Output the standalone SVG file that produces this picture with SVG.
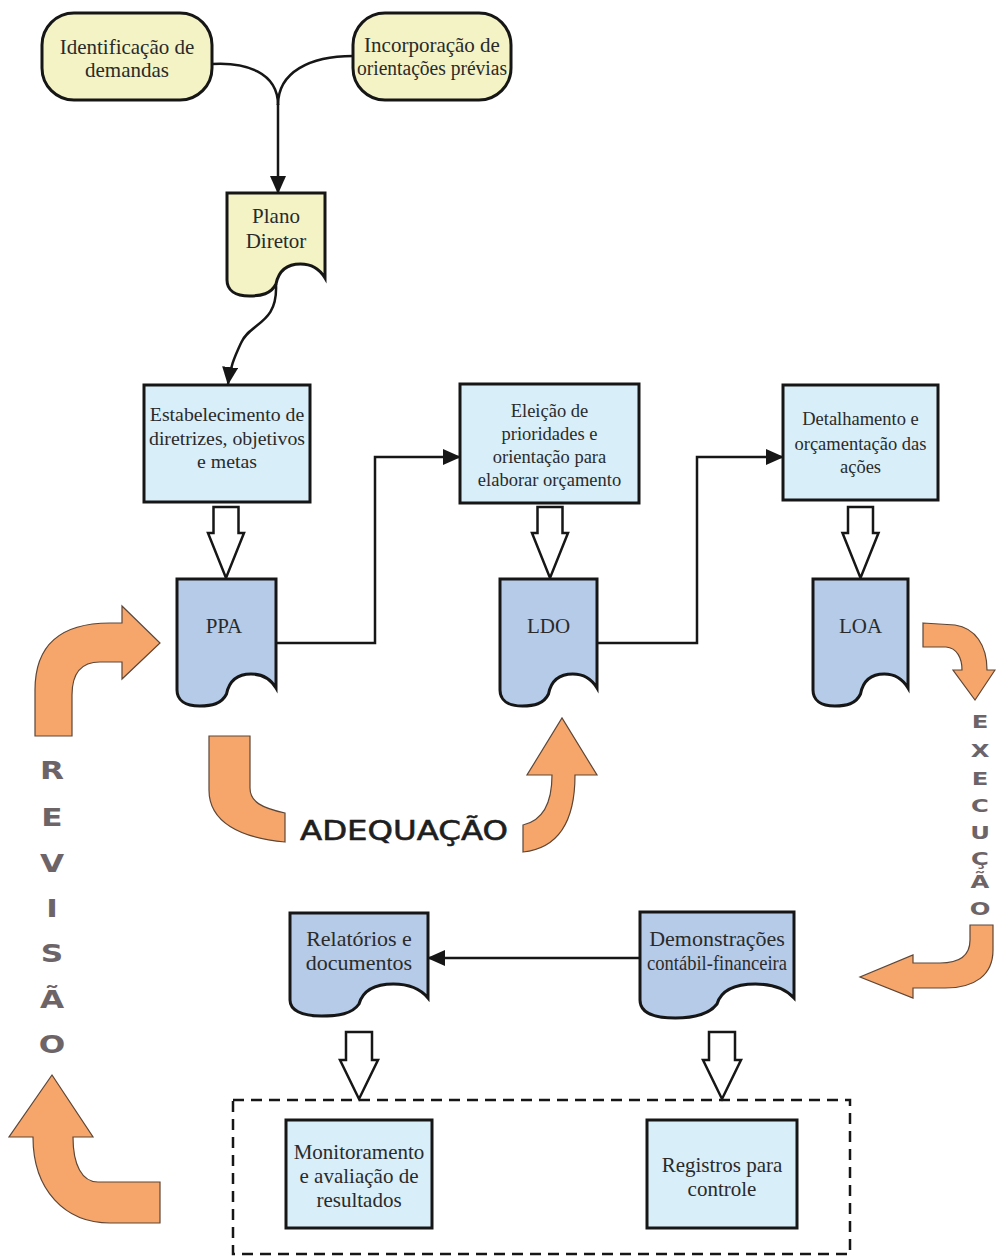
<svg xmlns="http://www.w3.org/2000/svg" width="996" height="1260" viewBox="0 0 996 1260">
<defs>
<style>
.t{font-family:"Liberation Serif","Times New Roman",serif;fill:#2a2a2a;text-anchor:middle}
.term{fill:#f3f3c6;stroke:#161616;stroke-width:3}
.rb{fill:#d8eef9;stroke:#161616;stroke-width:3}
.doc{fill:#b6cbe7;stroke:#161616;stroke-width:3}
.docy{fill:#f3f3c6;stroke:#161616;stroke-width:3}
.con{fill:none;stroke:#161616;stroke-width:2.5}
.hol{fill:#fff;stroke:#161616;stroke-width:2.5;stroke-linejoin:miter}
.or{fill:#f6a66b;stroke:#5e4636;stroke-width:1.2}
.big{font-family:"DejaVu Sans",sans-serif;font-weight:bold;fill:#6d6468;text-anchor:middle}
</style>
<marker id="ah" markerUnits="userSpaceOnUse" markerWidth="18" markerHeight="16" refX="17" refY="8" orient="auto">
<path d="M0,0 L18,8 L0,16 Z" fill="#161616"/>
</marker>
</defs>
<rect width="996" height="1260" fill="#fff"/>

<g id="connectors">
<path class="con" d="M212,64 C245,62 278,72 278,105"/>
<path class="con" d="M353,56 C310,56 278,72 278,105"/>
<path class="con" d="M278,104 V193" marker-end="url(#ah)"/>
<path class="con" d="M276,284 C278,325 250,322 241,343 C234,358 230,368 228,384" marker-end="url(#ah)"/>
<path class="con" d="M276,643 H375 V457 H460" marker-end="url(#ah)"/>
<path class="con" d="M597,643 H697 V457 H783" marker-end="url(#ah)"/>
<path class="con" d="M640,958 H428" marker-end="url(#ah)"/>
<path class="hol" d="M213.5,507 H238.5 V533 H244 L226,578 L208,533 H213.5 Z"/>
<path class="hol" d="M537.5,507 H562.5 V533 H568 L550,578 L532,533 H537.5 Z"/>
<path class="hol" d="M848,507 H873 V533 H878.5 L860.5,578 L842.5,533 H848 Z"/>
<path class="hol" d="M346,1032 H372 V1060 H378 L359,1099 L340,1060 H346 Z"/>
<path class="hol" d="M709,1032 H735 V1060 H741 L722,1099 L703,1060 H709 Z"/>
</g>

<g id="orange-arrows">
<path class="or" d="M35,736 L35,690 C35,645 60,623 110,623 L122,623 L122,606 L160,643 L122,679 L122,662 L100,662 C82,662 72,672 72,695 L72,736 Z"/>
<path class="or" d="M209,736 L250,736 L250,788 C250,802 262,808 285,813 L285,842 C240,838 209,822 209,790 Z"/>
<path class="or" d="M523,825 C545,820 552,800 552,775 L527,775 L562,718 L597,775 L575,775 C575,820 560,848 523,852 Z"/>
<path class="or" d="M923,623 L955,625 C975,628 987,645 987,670 L995,670 L975,700 L953,670 L962,670 C962,658 957,648 946,647 L923,647 Z"/>
<path class="or" d="M970,925 L993,925 L993,950 C993,975 975,988 945,988 L913,988 L913,998 L860,977 L913,955 L913,963 L940,963 C960,963 970,955 970,940 Z"/>
<path class="or" d="M33,1137 C33,1190 65,1223 110,1223 L160,1223 L160,1182 L98,1182 C82,1182 73,1165 73,1137 L93,1137 L52,1075 L9,1137 Z"/>
</g>

<g id="label-revisao" transform="translate(52,0) scale(1.3,1)">
<text class="big" font-size="24" x="0" y="779">R</text>
<text class="big" font-size="24" x="0" y="826">E</text>
<text class="big" font-size="24" x="0" y="872">V</text>
<text class="big" font-size="24" x="0" y="917">I</text>
<text class="big" font-size="24" x="0" y="962">S</text>
<text class="big" font-size="24" x="0" y="1008">Ã</text>
<text class="big" font-size="24" x="0" y="1053">O</text>
</g>

<g id="label-execucao" transform="translate(980,0) scale(1.35,1)">
<text class="big" font-size="18" x="0" y="728">E</text>
<text class="big" font-size="18" x="0" y="757">X</text>
<text class="big" font-size="18" x="0" y="785">E</text>
<text class="big" font-size="18" x="0" y="812">C</text>
<text class="big" font-size="18" x="0" y="839">U</text>
<text class="big" font-size="18" x="0" y="865">Ç</text>
<text class="big" font-size="18" x="0" y="888">Ã</text>
<text class="big" font-size="18" x="0" y="915">O</text>
</g>

<g id="label-adequacao">
<text x="300" y="840" font-family="DejaVu Sans, sans-serif" font-size="27" fill="#1e1e1e" stroke="#1e1e1e" stroke-width="0.6" textLength="208" lengthAdjust="spacingAndGlyphs">ADEQUAÇÃO</text>
</g>

<g id="n-identificacao">
<rect class="term" x="42" y="13" width="170" height="87" rx="32"/>
<text class="t" font-size="21" x="127" y="54">Identificação de</text>
<text class="t" font-size="21" x="127" y="77">demandas</text>
</g>
<g id="n-incorporacao">
<rect class="term" x="353" y="13" width="158" height="87" rx="32"/>
<text class="t" font-size="21" x="432" y="52">Incorporação de</text>
<text class="t" font-size="20" x="432" y="75" textLength="150" lengthAdjust="spacingAndGlyphs">orientações prévias</text>
</g>
<g id="n-plano">
<path class="docy" d="M227,193 H325 V278 C319,268 311,264 300.5,264 C284,264 278,274 276,284 C271,294 261,296 249.5,296 C235,296 227,290 227,280 Z"/>
<text class="t" font-size="21" x="276" y="223">Plano</text>
<text class="t" font-size="21" x="276" y="248">Diretor</text>
</g>
<g id="n-estab">
<rect class="rb" x="144" y="385" width="166" height="117"/>
<text class="t" font-size="19.8" x="227" y="421">Estabelecimento de</text>
<text class="t" font-size="19.8" x="227" y="445">diretrizes, objetivos</text>
<text class="t" font-size="19.8" x="227" y="468">e metas</text>
</g>
<g id="n-eleicao">
<rect class="rb" x="460" y="384" width="179" height="119"/>
<text class="t" font-size="18.5" x="549.5" y="417">Eleição de</text>
<text class="t" font-size="18.5" x="549.5" y="440">prioridades e</text>
<text class="t" font-size="18.5" x="549.5" y="463">orientação para</text>
<text class="t" font-size="18.5" x="549.5" y="486">elaborar orçamento</text>
</g>
<g id="n-detalhamento">
<rect class="rb" x="783" y="385" width="155" height="115"/>
<text class="t" font-size="18.5" x="860.5" y="425">Detalhamento e</text>
<text class="t" font-size="18.5" x="860.5" y="450">orçamentação das</text>
<text class="t" font-size="18.5" x="860.5" y="473">ações</text>
</g>
<g id="n-ppa">
<path class="doc" d="M177,579 H276 V688 C270,678 262,674 251,674 C234,674 228.5,684 226.5,694 C221.5,704 211.6,706 199.8,706 C185,706 177,700 177,690 Z"/>
<text class="t" font-size="21" x="224" y="633">PPA</text>
</g>
<g id="n-ldo">
<path class="doc" d="M500,579 H597 V688 C591,678 583,674 572.8,674 C556.3,674 550.4,684 548.5,694 C543.7,704 534,706 522.3,706 C507.8,706 500,700 500,690 Z"/>
<text class="t" font-size="21" x="548.5" y="633">LDO</text>
</g>
<g id="n-loa">
<path class="doc" d="M813,579 H908 V688 C902,678 894,674 884.3,674 C868.1,674 862.4,684 860.5,694 C855.8,704 846.3,706 834.9,706 C820.6,706 813,700 813,690 Z"/>
<text class="t" font-size="21" x="860.5" y="633">LOA</text>
</g>
<g id="n-relatorios">
<path class="doc" d="M290,913 H428 V998 C419.7,988 408.7,984 393.5,984 C370,984 361.8,994 359,1004 C352.1,1014 338.3,1016 321.7,1016 C301,1016 290,1010 290,1000 Z"/>
<text class="t" font-size="22" x="359" y="946">Relatórios e</text>
<text class="t" font-size="22" x="359" y="970">documentos</text>
</g>
<g id="n-demonstracoes">
<path class="doc" d="M640,912 H794 V998 C784.8,988 772.4,984 755.5,984 C729.3,984 720,994 717,1004 C709.3,1014 693.9,1018 675.4,1018 C652.3,1018 640,1012 640,1000 Z"/>
<text class="t" font-size="22" x="717" y="946">Demonstrações</text>
<text class="t" font-size="22" x="717" y="970" textLength="140" lengthAdjust="spacingAndGlyphs">contábil-financeira</text>
</g>
<g id="n-grupo-controle">
<rect x="233" y="1100" width="617" height="154" fill="none" stroke="#161616" stroke-width="2.5" stroke-dasharray="11,7"/>
</g>
<g id="n-monitoramento">
<rect class="rb" x="286" y="1120" width="146" height="108"/>
<text class="t" font-size="21" x="359" y="1159">Monitoramento</text>
<text class="t" font-size="21" x="359" y="1183">e avaliação de</text>
<text class="t" font-size="21" x="359" y="1207">resultados</text>
</g>
<g id="n-registros">
<rect class="rb" x="647" y="1120" width="150" height="108"/>
<text class="t" font-size="21" x="722" y="1172">Registros para</text>
<text class="t" font-size="21" x="722" y="1196">controle</text>
</g>
</svg>
